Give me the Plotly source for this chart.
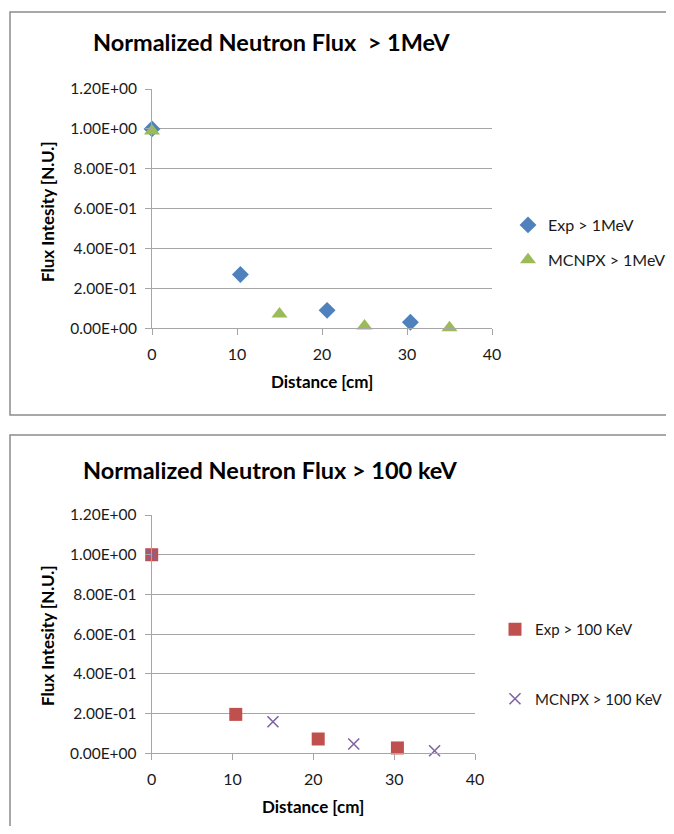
import plotly.graph_objects as go

# page is 674x834; the body keeps its default 8px margin, so the figure is 658x818
OFF = 8
W, H = 674 - 2 * OFF, 834 - 2 * OFF

# ---- data ----
exp1_x = [0, 10.4, 20.6, 30.4]
exp1_y = [1.0, 0.27, 0.09, 0.03]
mc1_x = [0, 15, 25, 35]
mc1_y = [0.99, 0.072, 0.012, 0.003]

exp2_x = [0, 10.4, 20.6, 30.4]
exp2_y = [1.0, 0.196, 0.072, 0.027]
mc2_x = [0, 15, 25, 35]
mc2_y = [1.0, 0.159, 0.047, 0.013]

y_tickvals = [0, 0.2, 0.4, 0.6, 0.8, 1.0, 1.2]
y_ticktext = ["0.00E+00", "2.00E-01", "4.00E-01", "6.00E-01", "8.00E-01", "1.00E+00", "1.20E+00"]
x_tickvals = [0, 10, 20, 30, 40]

title1 = "Normalized Neutron Flux  > 1MeV"
title2 = "Normalized Neutron Flux > 100 keV"


def px(x):
    return (x - OFF) / W


def py(y):
    return 1 - (y - OFF) / H


FONT = "Lato"
GRID = "#a6a6a6"
TXT = "#1a1a1a"

fig = go.Figure()
fig.add_trace(go.Scatter(x=exp1_x, y=exp1_y, mode="markers", name="Exp > 1MeV", cliponaxis=False,
                         marker=dict(symbol="diamond", size=13, color="#4F81BD"),
                         xaxis="x", yaxis="y", legend="legend", legendgroup="a"))
fig.add_trace(go.Scatter(x=mc1_x, y=mc1_y, mode="markers", name="MCNPX > 1MeV", cliponaxis=False,
                         marker=dict(symbol="triangle-up", size=14, color="#9BBB59"),
                         xaxis="x", yaxis="y", legend="legend", legendgroup="b"))
fig.add_trace(go.Scatter(x=exp2_x, y=exp2_y, mode="markers", name="Exp > 100 KeV", cliponaxis=False,
                         marker=dict(symbol="square", size=13, color="#C0504D"),
                         xaxis="x2", yaxis="y2", legend="legend2", legendgroup="c"))
fig.add_trace(go.Scatter(x=mc2_x, y=mc2_y, mode="markers", name="MCNPX > 100 KeV", cliponaxis=False,
                         marker=dict(symbol="x-thin-open", size=11, color="#8064A2",
                                     line=dict(width=1.6, color="#8064A2")),
                         xaxis="x2", yaxis="y2", legend="legend2", legendgroup="d"))

xcommon = dict(range=[0, 40], tickvals=x_tickvals, showgrid=False, zeroline=False,
               showline=True, linecolor=GRID, linewidth=1, ticks="outside", ticklen=6,
               tickcolor=GRID, tickfont=dict(family=FONT, size=16, color=TXT),
               ticklabelstandoff=5, automargin=False)
ycommon = dict(range=[0, 1.2], tickvals=y_tickvals, ticktext=y_ticktext, showgrid=True,
               gridcolor=GRID, gridwidth=1, zeroline=False, showline=True, linecolor=GRID,
               linewidth=1, ticks="outside", ticklen=6, tickcolor=GRID,
               tickfont=dict(family=FONT, size=15.5, color=TXT), ticklabelstandoff=5,
               automargin=False)

fig.update_layout(
    width=W, height=H, margin=dict(l=0, r=0, t=0, b=0, autoexpand=False),
    paper_bgcolor="white", plot_bgcolor="white",
    xaxis=dict(domain=[px(152), px(492)], anchor="y", **xcommon),
    yaxis=dict(domain=[py(328.3), py(89)], anchor="x", **ycommon),
    xaxis2=dict(domain=[px(151.7), px(475)], anchor="y2", **xcommon),
    yaxis2=dict(domain=[py(753.3), py(515)], anchor="x2", **ycommon),
    legend=dict(x=px(508), y=py(208), xanchor="left", yanchor="top",
                font=dict(family=FONT, size=16, color=TXT), bgcolor="rgba(0,0,0,0)",
                itemwidth=30, tracegroupgap=11),
    legend2=dict(x=px(495), y=py(613), xanchor="left", yanchor="top",
                 font=dict(family=FONT, size=15, color=TXT), bgcolor="rgba(0,0,0,0)",
                 itemwidth=30, tracegroupgap=47),
    showlegend=True,
)

shapes = [
    dict(type="rect", xref="paper", yref="paper", x0=px(10), x1=px(700), y0=py(415), y1=py(12),
         line=dict(color="#8c8c8c", width=1.5)),
    dict(type="rect", xref="paper", yref="paper", x0=px(10), x1=px(700), y0=py(860), y1=py(435),
         line=dict(color="#8c8c8c", width=1.5)),
]
fig.update_layout(shapes=shapes)

ann = [
    dict(text="<b>" + title1 + "</b>", x=px(271), y=py(42), font=dict(family=FONT, size=23.5, color="black")),
    dict(text="<b>" + title2 + "</b>", x=px(270), y=py(470), font=dict(family=FONT, size=23.5, color="black")),
    dict(text="<b>Flux Intesity [N.U.]</b>", x=px(47), y=py(212), textangle=-90,
         font=dict(family=FONT, size=17, color="black")),
    dict(text="<b>Flux Intesity [N.U.]</b>", x=px(47), y=py(636), textangle=-90,
         font=dict(family=FONT, size=17, color="black")),
    dict(text="<b>Distance [cm]</b>", x=px(322), y=py(381), font=dict(family=FONT, size=17, color="black")),
    dict(text="<b>Distance [cm]</b>", x=px(313), y=py(806), font=dict(family=FONT, size=17, color="black")),
]
for a in ann:
    a.update(xref="paper", yref="paper", showarrow=False, xanchor="center", yanchor="middle")
fig.update_layout(annotations=ann)

fig.write_html("out.html", config={"displayModeBar": False})
